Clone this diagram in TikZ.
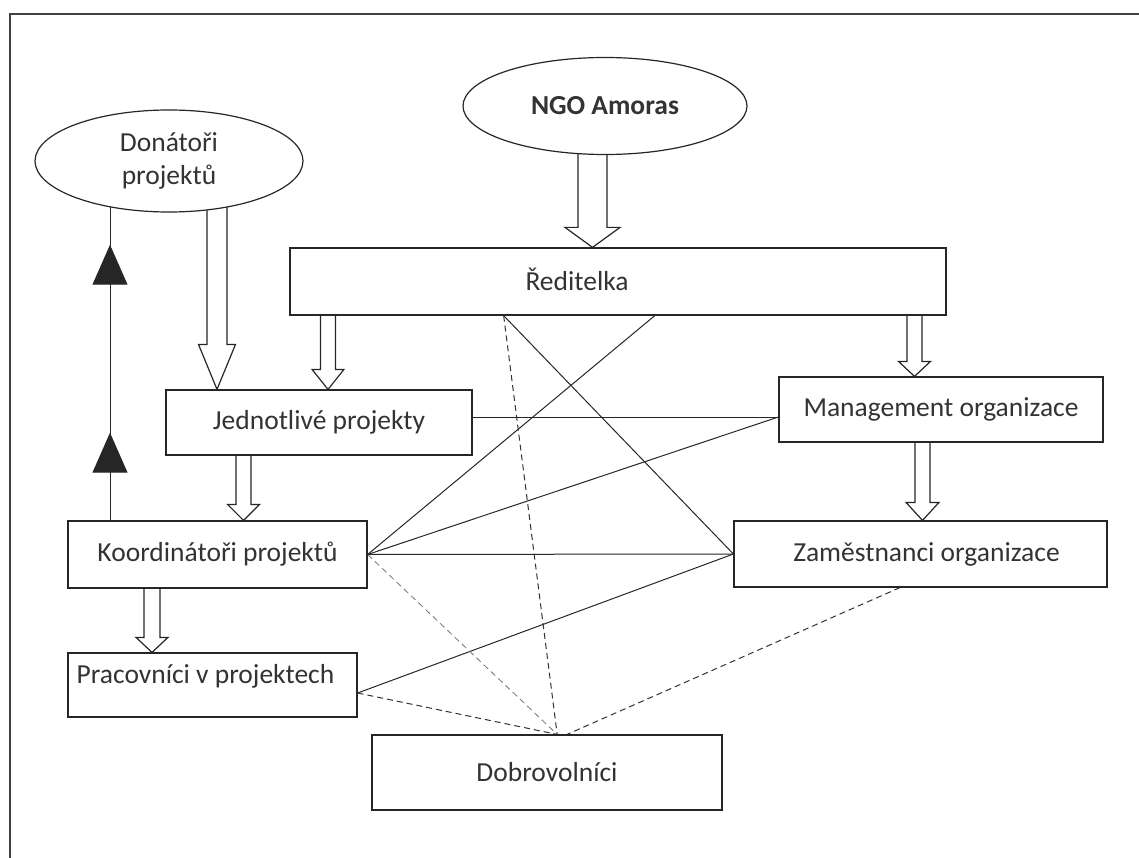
\documentclass[tikz,border=0pt]{standalone}
\usepackage{fontspec}
\setmainfont{Carlito}
\usetikzlibrary{calc,arrows.meta,decorations.markings,backgrounds,shapes.geometric}
\begin{document}
\begin{tikzpicture}[x=1pt,y=-1pt,
  txt/.style={font=\fontsize{27.5}{33}\selectfont, text=black!80},
  box/.style={draw=black!85, line width=1.2pt, fill=white, inner sep=0pt, rectangle, txt},
  oval/.style={draw=black!85, line width=1.2pt, fill=white, inner sep=0pt, ellipse, txt, align=center},
  conn/.style={line width=1pt, draw=black!85},
  dashconn/.style={line width=1pt, draw=black!80, dash pattern=on 6pt off 4pt},
  hollow/.style n args={3}{line width=1.2pt, fill=white, draw=black!85,
    to path={let \p1=(\tikztostart), \p2=(\tikztotarget) in
      ({\x1-#1pt},\y1) -- ({\x1-#1pt},{\y2+#3pt}) -- ({\x1-#2pt},{\y2+#3pt}) -- (\x1,\y2)
      -- ({\x1+#2pt},{\y2+#3pt}) -- ({\x1+#1pt},{\y2+#3pt}) -- ({\x1+#1pt},\y1)}},
  uparrows/.style={postaction={decorate}, decoration={markings,
    mark=at position 0.244 with {\arrow{Triangle[length=40pt,width=35pt]}},
    mark=at position 0.767 with {\arrow{Triangle[length=40pt,width=35pt]}}}}
]
\useasboundingbox (0,0) rectangle (1139,858);
\draw[line width=1.5pt, draw=black!75] (10,880) -- (10,14) -- (1160,14);

% nodes
\node[oval, minimum width=268pt, minimum height=102pt] (don) at (169,161) {Donátoři\\projektů};
\node[oval, minimum width=284pt, minimum height=97pt, font=\fontsize{27.5}{33}\selectfont\bfseries] (ngo) at (605,106) {NGO Amoras};
\node[box, minimum width=656pt, minimum height=67pt, label={[name=redtxt, txt, xshift=-41pt, yshift=2pt]center:Ředitelka}] (red) at (618,281.5) {};
\node[box, minimum width=306pt, minimum height=65pt] (jed) at (319,422.5) {Jednotlivé projekty};
\node[box, minimum width=299pt, minimum height=67pt] (koo) at (217.5,554.5) {Koordinátoři projektů};
\node[box, minimum width=324pt, minimum height=65pt] (mng) at (941,409.5) {Management organizace};
\node[box, minimum width=373pt, minimum height=66pt, label={[name=zamtxt, txt, xshift=6pt]center:Zaměstnanci organizace}] (zam) at (920.5,554) {};
\node[box, minimum width=289pt, minimum height=64pt, label={[name=pratxt, txt, xshift=-7pt, yshift=9pt]center:Pracovníci v projektech}] (pra) at (212.5,685) {};
\node[box, minimum width=350pt, minimum height=75pt] (dob) at (547,772.5) {Dobrovolníci};

% helper coordinates
\coordinate (xngo) at (592.5,0);
\coordinate (xdon) at (217,0);
\coordinate (xred1) at (328,0);
\coordinate (xjed) at (243.5,0);
\coordinate (xred2) at (914.5,0);
\coordinate (xmng) at (922.5,0);
\coordinate (xkoo) at (152,0);
\coordinate (xup) at (110,0);
\coordinate (mj) at ([yshift=-7.5pt]mng.west);
\coordinate (rA) at ($(red.south west)!0.326!(red.south east)$);
\coordinate (rB) at ($(red.south west)!0.556!(red.south east)$);
\coordinate (dA) at ($(dob.north west)!0.529!(dob.north east)$);
\coordinate (dB) at ($(dob.north west)!0.557!(dob.north east)$);
\coordinate (zB) at ($(zam.south west)!0.445!(zam.south east)$);
\coordinate (pE) at ([yshift=-8pt]pra.east);

\begin{scope}[on background layer]
  % hollow arrows
  \draw[hollow={14.5}{27.5}{20}] (ngo.center -| xngo) to (red.north -| xngo);
  \draw[hollow={10}{18.5}{45}] (don.center -| xdon) to (jed.north -| xdon);
  \draw[hollow={7.5}{16}{20}] (red.south -| xred1) to (jed.north -| xred1);
  \draw[hollow={7.5}{16}{16}] (jed.south -| xjed) to (koo.north -| xjed);
  \draw[hollow={7.5}{16}{15}] (red.south -| xred2) to (mng.north -| xred2);
  \draw[hollow={7.5}{16.5}{18}] (mng.south -| xmng) to (zam.north -| xmng);
  \draw[hollow={8}{16}{15}] (koo.south -| xkoo) to (pra.north -| xkoo);
  % black arrow line
  \draw[conn, uparrows] (koo.north -| xup) -- (don.center -| xup);
  % solid connectors
  \draw[conn] (mj -| jed.east) -- (mj);
  \draw[conn] (koo.east) -- (mj);
  \draw[conn] (koo.east) -- (rB);
  \draw[conn] (koo.east) -- (zam.west);
  \draw[conn] (rA) -- (zam.west);
  \draw[conn] (pE) -- (zam.west);
  % dashed connectors
  \draw[dashconn] (rA) -- (dA);
  \draw[dashconn, draw=black!55, line width=0.8pt] (koo.east) -- (dA);
  \draw[dashconn] (pE) -- (dA);
  \draw[dashconn] (zB) -- (dB);
\end{scope}
\end{tikzpicture}
\end{document}
